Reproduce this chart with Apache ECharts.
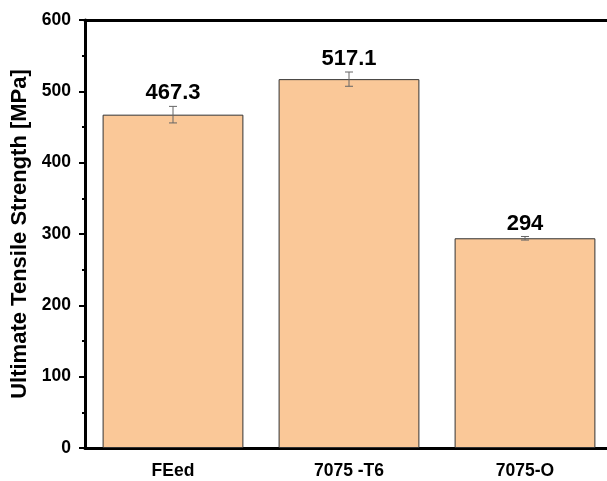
<!DOCTYPE html>
<html>
<head>
    <meta charset="utf-8">
    <title>UTS</title>
    <script src="https://cdn.jsdelivr.net/npm/echarts@6/dist/echarts.min.js"></script>
    <style>
      html,body{margin:0;padding:0;background:#fff;overflow:hidden}
      #main{width:607px;height:481px}
    </style>
</head>
<body>
    <div id="main"></div>
    <script type="text/javascript">

// data
let categories = ['FEed', '7075 -T6', '7075-O']
let strength = [467.3, 517.1, 294]
let errors = [11.6, 10, 2.5]
let labels = ['467.3', '517.1', '294']

let font = 'Liberation Sans, Arial, sans-serif'

let errData = strength.map((v, i) => [i, v - errors[i], v + errors[i], labels[i]])

var option = {
    animation: false,
    grid: {
        left: 85, top: 20, width: 528, bottom: 33,
        outerBoundsMode: 'none'
    },
    xAxis: [
        {
            type: 'category',
            data: categories,
            axisLine: { lineStyle: { color: '#000', width: 3 } },
            axisTick: { alignWithLabel: true, length: 7, lineStyle: { width: 2, color: '#000' } },
            axisLabel: { color: '#000', fontWeight: 'bold', fontSize: 17.5, fontFamily: font, margin: 14 }
        },
        {
            type: 'category',
            data: categories,
            position: 'bottom',
            axisLine: { show: false },
            axisTick: { length: 4, lineStyle: { width: 2, color: '#000' } },
            axisLabel: { show: false }
        },
        {
            // top frame line
            type: 'category',
            data: categories,
            position: 'top',
            axisLine: { lineStyle: { color: '#000', width: 3 } },
            axisTick: { show: false },
            axisLabel: { show: false }
        }
    ],
    yAxis: {
        type: 'value',
        min: 0, max: 600, interval: 100,
        name: 'Ultimate Tensile Strength [MPa]',
        nameLocation: 'middle',
        nameGap: 52,
        nameTextStyle: { color: '#000', fontWeight: 'bold', fontSize: 22, fontFamily: font },
        axisLine: { show: true, lineStyle: { color: '#000', width: 3 } },
        axisTick: { show: true, length: 6, lineStyle: { width: 2, color: '#000' } },
        minorTick: { show: true, splitNumber: 2, length: 3, lineStyle: { width: 2, color: '#000' } },
        splitLine: { show: false },
        axisLabel: { color: '#000', fontWeight: 'bold', fontSize: 17.5, fontFamily: font, margin: 14 }
    },
    series: [
        {
            type: 'bar',
            data: strength,
            barWidth: '80%',
            itemStyle: { color: '#FAC898', borderColor: '#333', borderWidth: 1 }
        },
        {
            type: 'custom',
            data: errData,
            z: 10,
            renderItem: function (params, api) {
                let lo = api.coord([api.value(0), api.value(1)])
                let hi = api.coord([api.value(0), api.value(2)])
                let x = lo[0], cap = 4
                let st = { stroke: '#666', lineWidth: 1 }
                return {
                    type: 'group',
                    children: [
                        { type: 'line', shape: { x1: x, y1: lo[1], x2: x, y2: hi[1] }, style: st },
                        { type: 'line', shape: { x1: x - cap, y1: lo[1], x2: x + cap, y2: lo[1] }, style: st },
                        { type: 'line', shape: { x1: x - cap, y1: hi[1], x2: x + cap, y2: hi[1] }, style: st },
                        {
                            type: 'text',
                            style: {
                                x: x, y: hi[1] - 2,
                                text: labels[params.dataIndex],
                                align: 'center', verticalAlign: 'bottom',
                                fill: '#000', fontSize: 22, fontWeight: 'bold', fontFamily: font
                            }
                        }
                    ]
                }
            }
        }
    ]
}

echarts.init(document.getElementById('main')).setOption(option)

    </script>
</body>
</html>
